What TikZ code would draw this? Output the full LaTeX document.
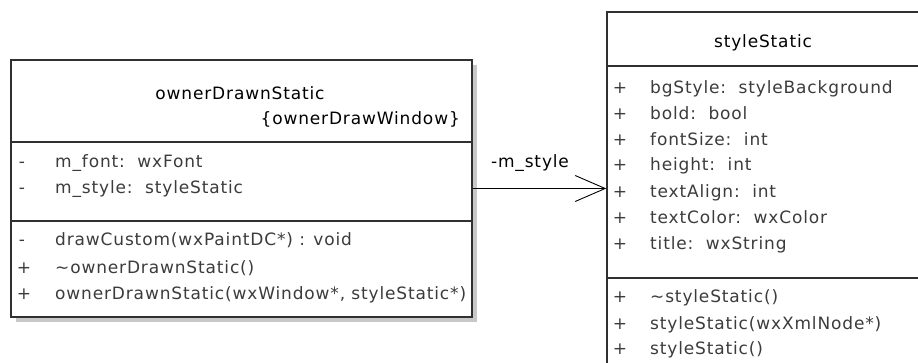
\documentclass[tikz,border=0pt]{standalone}
\usepackage{fontspec}
\setmainfont{DejaVu Sans}[LetterSpace=5]
\usetikzlibrary{arrows.meta}

\definecolor{boxline}{HTML}{303030}
\definecolor{shadowgray}{HTML}{C8C8C8}
\definecolor{membertext}{HTML}{3C3C3C}

\newcommand{\umlfont}{\fontsize{17pt}{20pt}\selectfont}

\tikzset{
  classbox/.style={draw=boxline, line width=1.4pt, fill=white, inner sep=0pt},
  boxshadow/.style={fill=shadowgray, draw=none, inner sep=0pt},
  divider/.style={draw=boxline, line width=1.4pt},
  classname/.style={inner sep=0pt, font=\umlfont, text=black},
  member/.style={anchor=west, inner sep=0pt, font=\umlfont, text=membertext,
    text height=12.5pt, text depth=3.5pt},
  vis/.style={inner sep=0pt, font=\umlfont, text=membertext,
    text height=12.5pt, text depth=3.5pt},
  assoc/.style={draw=black, line width=0.9pt, -{Straight Barb[length=30pt, width=26pt, line width=0.9pt]}},
}

\begin{document}
\begin{tikzpicture}[x=1pt, y=-1pt]
  \clip (0,0) rectangle (918,363);
  \fill[white] (0,0) rectangle (918,363);

  % ownerDrawnStatic
  \node[boxshadow, minimum width=461pt, minimum height=257pt] (ownerShadow) at (246.5,193.5) {};
  \node[classbox, minimum width=461pt, minimum height=257pt] (owner) at (241.5,188.5) {};
  \draw[divider] (owner.west |- 0,142) -- (owner.east |- 0,142);
  \draw[divider] (owner.west |- 0,221) -- (owner.east |- 0,221);

  \node[classname] (ownerName) at (240,93) {ownerDrawnStatic};
  \node[classname, anchor=east] (ownerStereo) at (460,119) {\{ownerDrawWindow\}};

  \node[vis] (ownerVisA) at (22,163) {-};
  \node[member] (ownerAttrA) at (55,163) {m\_font:~~wxFont};
  \node[vis] (ownerVisB) at (22,189) {-};
  \node[member] (ownerAttrB) at (55,189) {m\_style:~~styleStatic};

  \node[vis] (ownerVisC) at (22,241) {-};
  \node[member] (ownerOpA) at (55,241) {drawCustom(wxPaintDC*) : void};
  \node[vis] (ownerVisD) at (24,269) {+};
  \node[member] (ownerOpB) at (55,269) {\textasciitilde ownerDrawnStatic()};
  \node[vis] (ownerVisE) at (24,295) {+};
  \node[member] (ownerOpC) at (55,295) {ownerDrawnStatic(wxWindow*, styleStatic*)};

  % styleStatic
  \node[classbox, minimum width=313pt, minimum height=370pt] (style) at (763.5,197) {};
  \draw[divider] (style.west |- 0,66) -- (style.east |- 0,66);
  \draw[divider] (style.west |- 0,278) -- (style.east |- 0,278);

  \node[classname] (styleName) at (763,43) {styleStatic};

  \node[vis] (styleVisA) at (620,89) {+};
  \node[member] (styleAttrA) at (650,89) {bgStyle:~~styleBackground};
  \node[vis] (styleVisB) at (620,115) {+};
  \node[member] (styleAttrB) at (650,115) {bold:~~bool};
  \node[vis] (styleVisC) at (620,141) {+};
  \node[member] (styleAttrC) at (650,141) {fontSize:~~int};
  \node[vis] (styleVisD) at (620,166) {+};
  \node[member] (styleAttrD) at (650,166) {height:~~int};
  \node[vis] (styleVisE) at (620,193) {+};
  \node[member] (styleAttrE) at (650,193) {textAlign:~~int};
  \node[vis] (styleVisF) at (620,219) {+};
  \node[member] (styleAttrF) at (650,219) {textColor:~~wxColor};
  \node[vis] (styleVisG) at (620,245) {+};
  \node[member] (styleAttrG) at (650,245) {title:~~wxString};

  \node[vis] (styleVisH) at (620,298) {+};
  \node[member] (styleOpA) at (650,298) {\textasciitilde styleStatic()};
  \node[vis] (styleVisI) at (620,325) {+};
  \node[member] (styleOpB) at (650,325) {styleStatic(wxXmlNode*)};
  \node[vis] (styleVisJ) at (620,350) {+};
  \node[member] (styleOpC) at (650,350) {styleStatic()};

  % association
  \draw[assoc] (owner.east) -- (owner.east -| style.west);
  \node[classname] (styleRole) at (530,163) {-m\_style};
\end{tikzpicture}
\end{document}
